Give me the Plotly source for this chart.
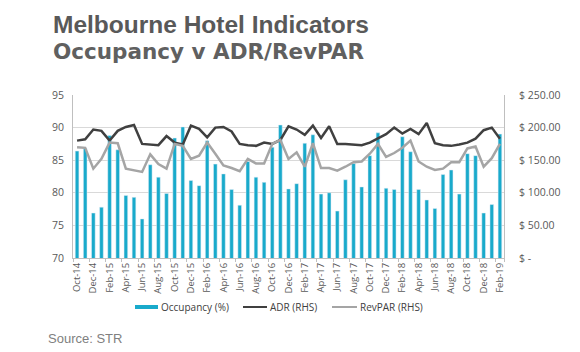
import plotly.graph_objects as go
import pandas as pd

months = [d.strftime("%b-%y") for d in pd.date_range("2014-10-01", "2019-02-01", freq="MS")]

occupancy = [86.4, 86.8, 76.9, 77.8, 88.8, 86.6, 79.6, 79.3, 76.0, 84.3, 82.4, 79.9,
             88.4, 90.1, 81.9, 81.1, 88.0, 84.4, 82.9, 80.5, 78.1, 84.8, 82.4, 81.6,
             87.0, 90.4, 80.6, 81.4, 87.6, 88.9, 79.8, 80.0, 77.2, 82.0, 84.5, 80.9,
             85.7, 89.2, 80.7, 80.5, 88.6, 86.3, 80.5, 78.9, 77.6, 82.8, 83.5, 79.8,
             86.0, 85.7, 76.9, 78.2, 89.0]

adr = [180, 182, 197, 195, 180, 195, 201, 204, 175, 174, 173, 187,
       177, 174, 203, 198, 185, 200, 201, 194, 175, 173, 172, 177,
       175, 181, 202, 197, 189, 203, 184, 202, 175, 175, 174, 173,
       177, 183, 190, 200, 191, 198, 190, 207, 176, 173, 172, 174,
       177, 183, 196, 200, 183]

revpar = [170, 169, 137, 152, 177, 176, 137, 135, 132, 159, 144, 137,
          175, 172, 152, 157, 177, 160, 142, 138, 133, 152, 145, 145,
          175, 181, 152, 162, 140, 176, 138, 138, 134, 140, 147, 148,
          160, 175, 155, 161, 169, 180, 148, 140, 135, 137, 147, 147,
          168, 171, 140, 153, 175]

left_ticks = [70, 75, 80, 85, 90, 95]
right_ticks = [0, 50, 100, 150, 200, 250]
right_ticktext = ["$ -", "$ 50.00", "$ 100.00", "$ 150.00", "$ 200.00", "$ 250.00"]

BAR = "#19AACB"
ADR_C = "#404040"
REV_C = "#A5A5A5"
GRID = "#D9D9D9"
AXIS = "#BFBFBF"
TXT = "#595959"

W, H = 580, 352
L, R, T, B = 73, 76, 95, 94
PW, PH = W - L - R, H - T - B

def px(x):
    return (x - L) / PW

def py(y):
    return (H - B - y) / PH

fig = go.Figure()
fig.add_trace(go.Bar(x=months, y=occupancy, marker_color=BAR, name="Occupancy (%)",
                     showlegend=False))
fig.add_trace(go.Scatter(x=months, y=adr, mode="lines", yaxis="y2", name="ADR (RHS)",
                         line=dict(color=ADR_C, width=2.5), showlegend=False))
fig.add_trace(go.Scatter(x=months, y=revpar, mode="lines", yaxis="y2", name="RevPAR (RHS)",
                         line=dict(color=REV_C, width=2.5), showlegend=False))

tickfont = dict(family="Open Sans", size=10.5, color=TXT)

fig.update_layout(
    width=W, height=H,
    margin=dict(l=L, r=R, t=T, b=B),
    paper_bgcolor="white", plot_bgcolor="white",
    bargap=0.55,
    xaxis=dict(type="category", tickmode="array", tickvals=months[::2], ticktext=months[::2],
               tickangle=-90, tickfont=dict(family="Open Sans", size=9.5, color=TXT),
               tickson="boundaries", ticks="outside", ticklen=3, tickcolor=AXIS,
               showline=True, linecolor=AXIS, linewidth=1, showgrid=False,
               range=[-0.5, len(months) - 0.5]),
    yaxis=dict(range=[70, 95], tickvals=left_ticks, tickfont=tickfont,
               showgrid=True, gridcolor=GRID, gridwidth=1, zeroline=False,
               showline=True, linecolor=AXIS, linewidth=1, ticks="", ticklabelstandoff=6),
    yaxis2=dict(range=[0, 250], overlaying="y", side="right", tickvals=right_ticks,
                ticktext=right_ticktext, tickfont=tickfont, showgrid=False, zeroline=False,
                showline=True, linecolor=AXIS, linewidth=1, ticks="", ticklabelstandoff=12),
)

ann = []
ann.append(dict(text="<b>Melbourne Hotel Indicators</b>", x=px(51), y=py(24.5), xref="paper",
                yref="paper", xanchor="left", yanchor="middle", showarrow=False,
                font=dict(family="Liberation Sans", size=24.5, color=TXT)))
ann.append(dict(text="<b>Occupancy v ADR/RevPAR</b>", x=px(51), y=py(51), xref="paper",
                yref="paper", xanchor="left", yanchor="middle", showarrow=False,
                font=dict(family="DejaVu Sans", size=21.5, color="#606060")))
ann.append(dict(text="Source: STR", x=px(46), y=py(338.5), xref="paper", yref="paper",
                xanchor="left", yanchor="middle", showarrow=False,
                font=dict(family="Liberation Sans", size=13, color="#808080")))

leg_y = 307
legfont = dict(family="Open Sans", size=10, color="#404040")
shapes = []
shapes.append(dict(type="rect", xref="paper", yref="paper", x0=px(135), x1=px(158),
                   y0=py(leg_y + 2), y1=py(leg_y - 2), fillcolor=BAR, line=dict(width=0)))
shapes.append(dict(type="line", xref="paper", yref="paper", x0=px(243), x1=px(267),
                   y0=py(leg_y), y1=py(leg_y), line=dict(color=ADR_C, width=2)))
shapes.append(dict(type="line", xref="paper", yref="paper", x0=px(332), x1=px(357),
                   y0=py(leg_y), y1=py(leg_y), line=dict(color=REV_C, width=2)))
for label, x0 in [("Occupancy (%)", 159), ("ADR (RHS)", 268), ("RevPAR (RHS)", 358)]:
    ann.append(dict(text=label, x=px(x0), y=py(leg_y), xref="paper", yref="paper",
                    xanchor="left", yanchor="middle", showarrow=False, font=legfont))

fig.update_layout(annotations=ann, shapes=shapes)
fig.write_html("out.html")
